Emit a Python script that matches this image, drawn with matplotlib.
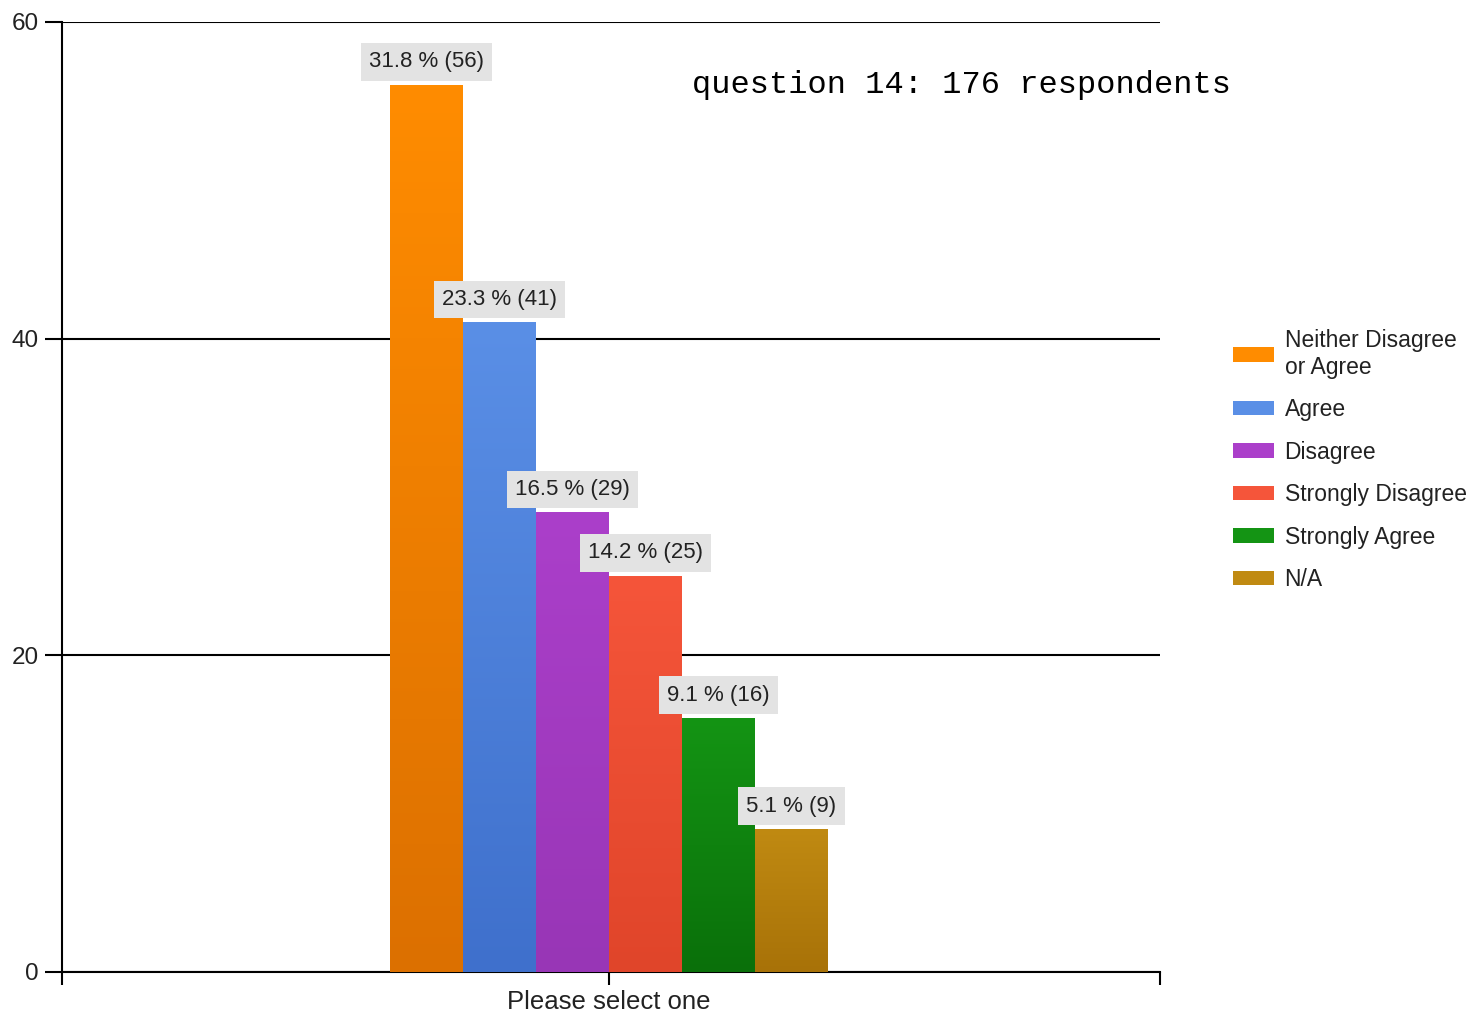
import matplotlib
matplotlib.use("Agg")
import matplotlib.pyplot as plt
import numpy as np
from matplotlib.colors import LinearSegmentedColormap
from matplotlib.patches import Patch

# data
answers = ["Neither Disagree\nor Agree", "Agree", "Disagree",
           "Strongly Disagree", "Strongly Agree", "N/A"]
counts = [56, 41, 29, 25, 16, 9]
percents = [31.8, 23.3, 16.5, 14.2, 9.1, 5.1]
category = "Please select one"
title = "question 14: 176 respondents"
y_ticks = [0, 20, 40, 60]

# top / bottom colours of each bar
top_colors = ["#ff8c00", "#5a8fe6", "#ab3fca", "#f5553a", "#149414", "#c08a12"]
bot_colors = ["#dc7000", "#3f70cc", "#9836b6", "#e0452a", "#0a700a", "#a87208"]

plt.rcParams['font.family'] = ['Liberation Sans', 'DejaVu Sans']

fig = plt.figure(figsize=(14.7, 10.14), dpi=100)
ax = fig.add_axes([62/1470, 1 - 972/1014, 1098/1470, 950/1014])

w = 73 / 1098
n = len(counts)
offsets = [(i - (n - 1) / 2) * w for i in range(n)]
bars = ax.bar(offsets, counts, width=w, color=top_colors, zorder=2,
              edgecolor='none')

# vertical shading on each bar (lighter at top)
grad = np.linspace(0, 1, 256).reshape(-1, 1)
for b, c1, c2 in zip(bars, top_colors, bot_colors):
    cmap = LinearSegmentedColormap.from_list("g", [c1, c2])
    x0 = b.get_x()
    ax.imshow(grad, cmap=cmap, aspect='auto', zorder=3, origin='upper',
              extent=(x0, x0 + b.get_width(), 0, b.get_height()))

for b, p, c in zip(bars, percents, counts):
    ax.annotate(f"{p} % ({c})", xy=(b.get_x() + b.get_width() / 2, b.get_height()),
                xytext=(0, 16.8), textcoords='offset points',
                ha='center', va='center', fontsize=16, color='#222222',
                zorder=5,
                bbox=dict(boxstyle='square,pad=0.38', fc='#e3e3e3', ec='none'))

x_lo, x_hi = -547 / 1098, 551 / 1098
ax.set_xlim(x_lo, x_hi)
ax.set_ylim(0, 60)
ax.set_yticks(y_ticks)
ax.set_xticks([x_lo, 0, x_hi])
ax.set_xticklabels(["", category, ""])
ax.tick_params(axis='y', length=12, width=1.5, pad=5, labelsize=17.5,
               labelcolor='#222222')
ax.tick_params(axis='x', length=9, width=1.5, pad=4, labelsize=18.5,
               labelcolor='#222222')
ax.grid(axis='y', color='black', linewidth=1.5, zorder=0)
ax.set_axisbelow(True)
for s in ['top', 'right']:
    ax.spines[s].set_visible(False)
for s in ['left', 'bottom']:
    ax.spines[s].set_linewidth(1.5)
    ax.spines[s].set_color('black')

handles = [Patch(facecolor=c, edgecolor='none') for c in top_colors]
fig.legend(handles, answers, loc='upper left',
           bbox_to_anchor=(1233/1470, 1 - 329/1014), frameon=False,
           fontsize=16.5, handlelength=1.8, handleheight=0.6,
           handletextpad=0.45, labelspacing=0.85, borderpad=0,
           borderaxespad=0, labelcolor='#222222')

fig.text(692/1470, 1 - 85/1014, title, family='Liberation Mono',
         fontsize=23, ha='left', va='center', color='black')

fig.savefig("out.png", dpi=100)
